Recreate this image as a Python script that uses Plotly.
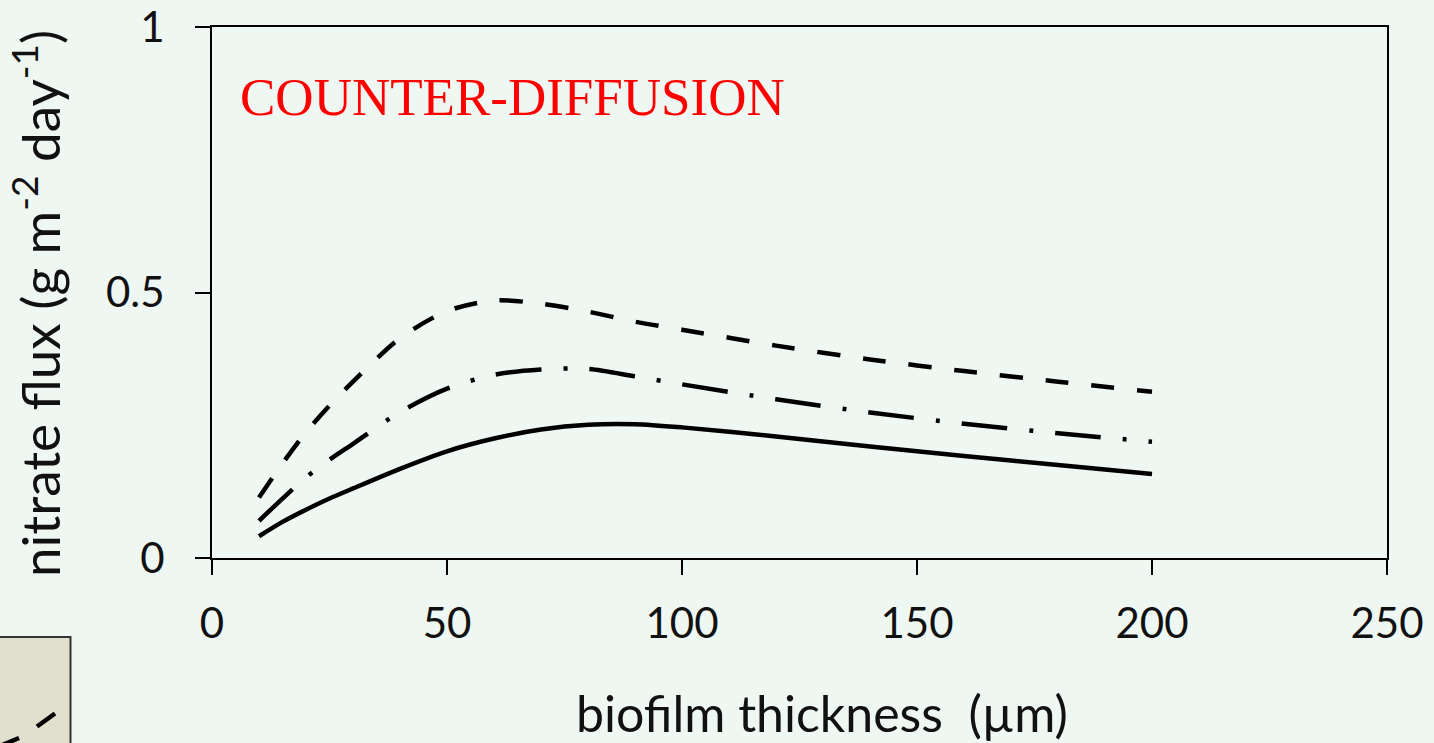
import plotly.graph_objects as go

# ---- data ----
thickness = [10, 15, 20, 25, 30, 40, 50, 60, 70, 80, 90, 100, 120, 140, 160, 180, 200]
flux_solid = [0.041, 0.068, 0.091, 0.112, 0.131, 0.168, 0.201, 0.225, 0.242, 0.251, 0.252,
              0.246, 0.229, 0.210, 0.192, 0.175, 0.158]
flux_dashed = [0.114, 0.178, 0.237, 0.287, 0.332, 0.414, 0.465, 0.485, 0.479, 0.464, 0.445,
               0.430, 0.400, 0.374, 0.352, 0.332, 0.313]
flux_dashdot = [0.070, 0.112, 0.152, 0.185, 0.215, 0.275, 0.319, 0.345, 0.355, 0.356, 0.342,
                0.327, 0.299, 0.274, 0.253, 0.235, 0.219]

x_ticks = [0, 50, 100, 150, 200, 250]
y_ticks = [0, 0.5, 1]
y_tick_labels = ["0", "0.5", "1"]

BG = "#eef7f2"
TICK_FONT = dict(family="Lato", size=42, color="#111111")
XTITLE_FONT = dict(family="Lato", size=50, color="#111111")
YTITLE_FONT = dict(family="Lato", size=53, color="#111111")

W, H = 1434, 743
L, R, T, B = 212, 47, 27, 185
PW, PH = W - L - R, H - T - B


def px_x(px):
    return (px - L) / PW


def px_y(py):
    return (H - B - py) / PH


fig = go.Figure()
styles = [
    (flux_solid, "solid"),
    (flux_dashdot, "46px,22px,4px,22px"),
    (flux_dashed, "23px,23px"),
]
for ys, dash in styles:
    fig.add_trace(go.Scatter(
        x=thickness, y=ys, mode="lines",
        line=dict(color="black", width=4.5, dash=dash, shape="spline", smoothing=0.8),
        showlegend=False, hoverinfo="skip",
    ))

axis_common = dict(
    showline=True, linecolor="black", linewidth=2, mirror=True,
    showgrid=False, zeroline=False,
    ticks="outside", ticklen=15, tickwidth=1.5, tickcolor="black",
    tickfont=TICK_FONT,
)
fig.update_xaxes(range=[0, 250], tickvals=x_ticks, ticklabelstandoff=13, **axis_common)
fig.update_yaxes(range=[0, 1], tickvals=y_ticks, ticktext=y_tick_labels,
                 ticklabelstandoff=22, **axis_common)

annotations = [
    dict(text="COUNTER-DIFFUSION", x=px_x(238), y=px_y(97), xref="paper", yref="paper",
         xanchor="left", yanchor="middle", showarrow=False,
         font=dict(family="Liberation Serif", size=53, color="#ff0000")),
    dict(text="biofilm thickness  (µm)", x=px_x(822), y=px_y(713), xref="paper", yref="paper",
         xanchor="center", yanchor="middle", showarrow=False, font=XTITLE_FONT),
    dict(text="nitrate flux (g m<sup>-2</sup> day<sup>-1</sup>)", x=px_x(36), y=px_y(304),
         xref="paper", yref="paper", xanchor="center", yanchor="middle",
         textangle=-90, showarrow=False, font=YTITLE_FONT),
]

# fragment of a neighbouring panel visible at bottom-left
shapes = [
    dict(type="rect", xref="paper", yref="paper",
         x0=px_x(-10), x1=px_x(70.5), y0=px_y(760), y1=px_y(637),
         fillcolor="#e1dfcd", line=dict(color="#333333", width=2), layer="above"),
    dict(type="line", xref="paper", yref="paper",
         x0=px_x(37), y0=px_y(726.5), x1=px_x(55), y1=px_y(713.5),
         line=dict(color="black", width=4.5)),
    dict(type="line", xref="paper", yref="paper",
         x0=px_x(0), y0=px_y(746), x1=px_x(19), y1=px_y(738),
         line=dict(color="black", width=4.5)),
]

fig.update_layout(
    width=W, height=H,
    margin=dict(l=L, r=R, t=T, b=B, pad=0, autoexpand=False),
    paper_bgcolor=BG, plot_bgcolor=BG,
    annotations=annotations, shapes=shapes,
)

fig.write_html(
    "out.html",
    config={"displayModeBar": False},
    post_script="document.body.style.margin='0';document.body.style.overflow='hidden';"
                "document.body.style.background='" + BG + "';",
)
